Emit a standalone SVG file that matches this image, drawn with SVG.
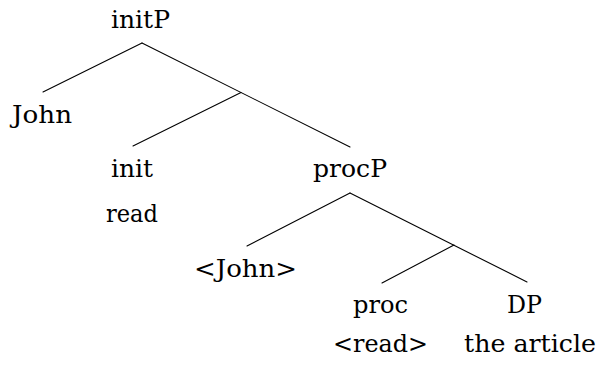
<svg xmlns="http://www.w3.org/2000/svg" width="597" height="365" viewBox="0 0 597 365">
<style>
text{font-family:'DejaVu Serif','Liberation Serif',serif;font-size:24px;fill:#000}
.e{stroke:#000;stroke-width:1.1;fill:none;stroke-linecap:round}
</style>
<rect width="597" height="365" fill="#fff"/>
<g id="connectors">
<line class="e" x1="142" y1="43" x2="43" y2="92"/>
<line class="e" x1="142" y1="43" x2="350" y2="147"/>
<line class="e" x1="241" y1="92.5" x2="133" y2="146"/>
<line class="e" x1="350" y1="193" x2="247" y2="246"/>
<line class="e" x1="350" y1="193" x2="527" y2="282"/>
<line class="e" x1="454" y1="245" x2="382" y2="283"/>
</g>
<g id="initP"><text x="111" y="28" textLength="59" lengthAdjust="spacingAndGlyphs">initP</text></g>
<g id="John"><text x="12" y="123" textLength="60" lengthAdjust="spacingAndGlyphs">John</text></g>
<g id="init"><text x="111" y="177" textLength="42" lengthAdjust="spacingAndGlyphs">init</text><text x="106" y="222" textLength="52" lengthAdjust="spacingAndGlyphs">read</text></g>
<g id="procP"><text x="313" y="177" textLength="74" lengthAdjust="spacingAndGlyphs">procP</text></g>
<g id="John2"><text x="194" y="277" textLength="103" lengthAdjust="spacingAndGlyphs">&lt;John&gt;</text></g>
<g id="proc"><text x="353" y="313" textLength="55" lengthAdjust="spacingAndGlyphs">proc</text><text x="333" y="352" textLength="95" lengthAdjust="spacingAndGlyphs">&lt;read&gt;</text></g>
<g id="DP"><text x="507" y="313" textLength="35" lengthAdjust="spacingAndGlyphs">DP</text><text x="464" y="352" textLength="132" lengthAdjust="spacingAndGlyphs">the article</text></g>
</svg>
